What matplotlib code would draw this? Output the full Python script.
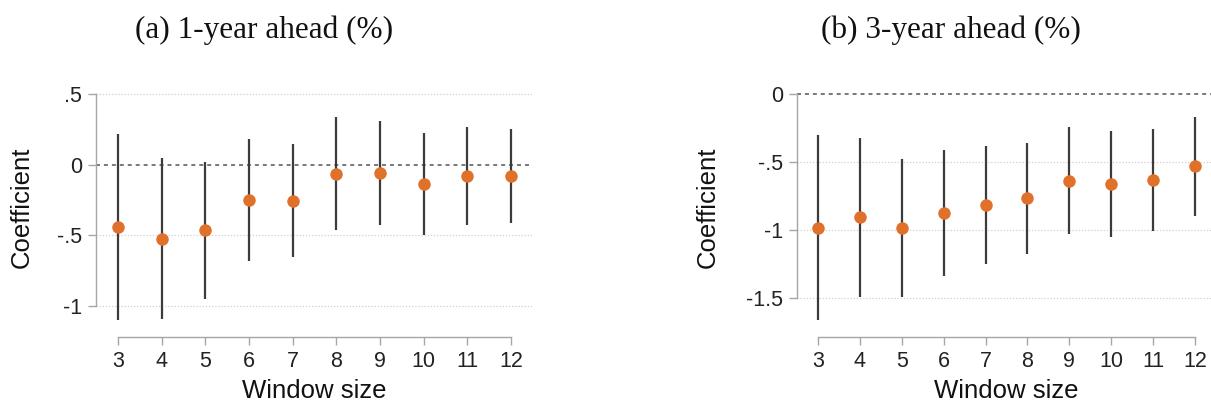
import matplotlib
matplotlib.use("Agg")
import matplotlib.pyplot as plt

# window sizes on the x axis
windows = [3, 4, 5, 6, 7, 8, 9, 10, 11, 12]

# (a) 1-year ahead
coef_1y = [-0.439, -0.523, -0.464, -0.251, -0.253, -0.063, -0.059, -0.134, -0.080, -0.082]
upper_1y = [0.221, 0.049, 0.021, 0.181, 0.150, 0.338, 0.312, 0.228, 0.265, 0.251]
lower_1y = [-1.099, -1.092, -0.946, -0.681, -0.653, -0.462, -0.425, -0.495, -0.425, -0.415]

# (b) 3-year ahead
coef_3y = [-0.983, -0.907, -0.983, -0.876, -0.817, -0.768, -0.639, -0.666, -0.632, -0.532]
upper_3y = [-0.302, -0.324, -0.476, -0.415, -0.383, -0.359, -0.244, -0.273, -0.256, -0.168]
lower_3y = [-1.661, -1.493, -1.493, -1.337, -1.251, -1.180, -1.029, -1.054, -1.010, -0.895]

titles = ["(a) 1-year ahead (%)", "(b) 3-year ahead (%)"]
yticks_1y = [0.5, 0, -0.5, -1]
yticks_3y = [0, -0.5, -1, -1.5]
ylabels_1y = [".5", "0", "-.5", "-1"]
ylabels_3y = ["0", "-.5", "-1", "-1.5"]

plt.rcParams['font.family'] = ['Liberation Sans', 'DejaVu Sans']

W, H = 1211, 404
fig = plt.figure(figsize=(W / 100, H / 100), dpi=100)

orange = '#E0712A'
bar_col = '#3d3b39'
spine_col = '#a6a6a6'


def panel(left_px, right_px, ylim, yticks, ylabels, coef, lo, hi, title, title_x, ylab_x):
    bottom_px, top_px = 337, 87
    ax = fig.add_axes([left_px / W, 1 - bottom_px / H,
                       (right_px - left_px) / W, (bottom_px - top_px) / H])
    ax.set_xlim(2.5, 12.5)
    ax.set_ylim(*ylim)

    # light dotted grid, dark dotted zero line
    for t in yticks:
        if t == 0:
            ax.axhline(0, color='#6e6e6e', lw=1.3, ls=(0, (2.2, 2.2)), clip_on=False, zorder=1)
        else:
            ax.axhline(t, color='#d0d0d0', lw=0.9, ls=(0, (1, 1.5)), zorder=0)

    ax.vlines(windows, lo, hi, color=bar_col, lw=1.6, zorder=2)
    ax.plot(windows, coef, 'o', color=orange, ms=9, mec='none', zorder=3)

    for s in ['top', 'right']:
        ax.spines[s].set_visible(False)
    ax.spines['left'].set_bounds(min(yticks), max(yticks))
    ax.spines['bottom'].set_bounds(3, 12)
    for s in ['left', 'bottom']:
        ax.spines[s].set_color(spine_col)
        ax.spines[s].set_linewidth(1.0)

    ax.set_xticks(windows)
    ax.set_xticklabels([str(w) for w in windows])
    ax.set_yticks(yticks)
    ax.set_yticklabels(ylabels)
    ax.tick_params(axis='both', colors=spine_col, labelcolor='#222222', labelsize=15.5,
                   length=6, width=1.0, pad=4)
    ax.set_facecolor('none')

    ax.set_xlabel("Window size", fontsize=18.5, color='#111111', labelpad=5)
    ax.set_ylabel("Coefficient", fontsize=18.5, color='#111111')
    ax.yaxis.set_label_coords((ylab_x - left_px) / (right_px - left_px), 0.52)

    fig.text(title_x / W, 1 - 30 / H, title, ha='center', va='center',
             fontsize=22.5, family='Liberation Serif', color='#111111')
    return ax


panel(96, 533, (-1.218, 0.55), yticks_1y, ylabels_1y, coef_1y, lower_1y, upper_1y,
      titles[0], 264, 34)
panel(797, 1216, (-1.787, 0.05), yticks_3y, ylabels_3y, coef_3y, lower_3y, upper_3y,
      titles[1], 951, 720)

fig.savefig("out.png", dpi=100)
